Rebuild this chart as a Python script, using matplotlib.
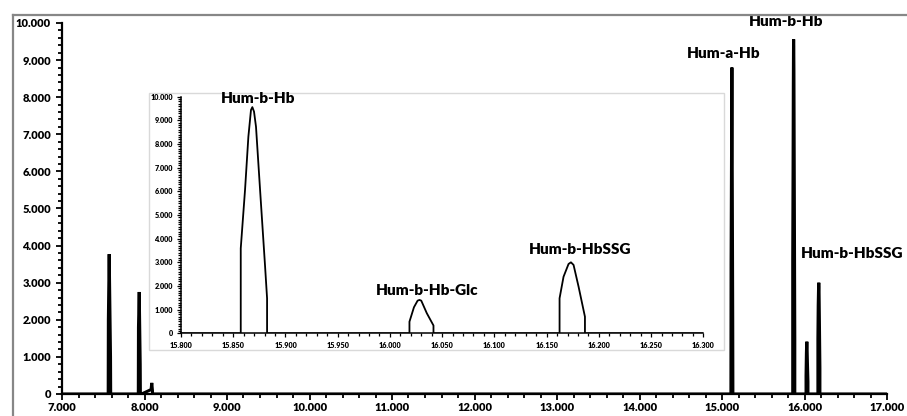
import matplotlib.pyplot as plt
from matplotlib.ticker import MultipleLocator, FuncFormatter
from matplotlib.lines import Line2D
from matplotlib.patches import Rectangle

plt.rcParams['font.family'] = ['Lato', 'DejaVu Sans']
plt.rcParams['font.weight'] = 'bold'

# retention time (min) and intensity (x1000) of the trace
rt = [7.000, 7.560, 7.562, 7.572, 7.588, 7.590,
      7.925, 7.927, 7.936, 7.948, 7.950, 7.965, 8.080, 8.088, 8.096, 8.098,
      15.108, 15.110, 15.120, 15.130, 15.132,
      15.8572, 15.8572, 15.8613, 15.8645, 15.8670, 15.8683, 15.8699, 15.8718,
      15.8757, 15.8805, 15.8824, 15.8824,
      16.0187, 16.0187, 16.0230, 16.0265, 16.0283, 16.0300, 16.0353, 16.0417, 16.0417,
      16.1624, 16.1624, 16.1662, 16.1710, 16.1733, 16.1758, 16.1806, 16.1867, 16.1867,
      17.000]
intensity = [0, 0, 2.0, 3.77, 1.0, 0,
             0, 1.8, 2.75, 0.8, 0, 0, 0.12, 0.30, 0.10, 0,
             0, 3.5, 8.80, 2.0, 0,
             0, 3.59, 6.06, 8.31, 9.44, 9.56, 9.37, 8.73,
             6.06, 2.82, 1.48, 0,
             0, 0.49, 1.10, 1.38, 1.41, 1.38, 0.85, 0.33, 0,
             0, 1.48, 2.39, 2.93, 3.00, 2.89, 1.97, 0.70, 0,
             0]

main_labels = ["Hum-a-Hb", "Hum-b-Hb", "Hum-b-HbSSG"]
main_label_x = [15.024, 15.772, 16.576]
main_label_y = [9.19, 10.03, 3.80]

inset_labels = ["Hum-b-Hb", "Hum-b-Hb-Glc", "Hum-b-HbSSG"]
inset_label_x = [15.8738, 16.036, 16.1825]
inset_label_y = [9.94, 1.80, 3.55]


def fmt(v, pos):
    if abs(v) < 1e-9:
        return "0"
    return f"{v:.3f}"


fig = plt.figure(figsize=(9.07, 4.16), dpi=100)

# outer chart border (only top and left visible)
fig.add_artist(Line2D([13 / 907, 1], [1 - 15 / 416, 1 - 15 / 416], color="#878787", lw=1.6))
fig.add_artist(Line2D([13 / 907, 13 / 907], [0, 1 - 15 / 416], color="#878787", lw=1.6))

ax = fig.add_axes([62 / 907, 22 / 416, (887 - 62) / 907, (394 - 23) / 416])
ax.plot(rt, intensity, color="black", lw=2.2, solid_joinstyle="miter")
ax.set_xlim(7, 17)
ax.set_ylim(0, 10)
for s in ["top", "right"]:
    ax.spines[s].set_visible(False)
for s in ["left", "bottom"]:
    ax.spines[s].set_linewidth(1.6)
ax.xaxis.set_major_locator(MultipleLocator(1))
ax.xaxis.set_minor_locator(MultipleLocator(0.2))
ax.yaxis.set_major_locator(MultipleLocator(1))
ax.yaxis.set_minor_locator(MultipleLocator(0.2))
ax.xaxis.set_major_formatter(FuncFormatter(fmt))
ax.yaxis.set_major_formatter(FuncFormatter(fmt))
ax.tick_params(which="both", direction="out", width=1.3, labelsize=8)
ax.tick_params(which="major", length=4)
ax.tick_params(which="minor", length=3)
ax.tick_params(axis="x", pad=2)
ax.tick_params(axis="y", pad=4)
for lab in ax.get_xticklabels() + ax.get_yticklabels():
    lab.set_fontweight("heavy")
for t, x, y in zip(main_labels, main_label_x, main_label_y):
    ax.text(x, y, t, ha="center", va="center", fontsize=11, fontweight="heavy", clip_on=False)

# inset frame
fig.add_artist(Rectangle((149 / 907, 1 - 350 / 416), (724 - 149) / 907, (350 - 93) / 416,
                         facecolor="white", edgecolor="#d9d9d9", lw=1.0, zorder=1))

axi = fig.add_axes([181 / 907, 1 - 333.3 / 416, (703.3 - 181) / 907, (333.3 - 96.7) / 416], zorder=2)
axi.plot(rt, intensity, color="black", lw=1.3)
axi.set_xlim(15.8, 16.3)
axi.set_ylim(0, 10)
axi.patch.set_alpha(0)
for s in ["top", "right"]:
    axi.spines[s].set_visible(False)
for s in ["left", "bottom"]:
    axi.spines[s].set_linewidth(1.1)
axi.xaxis.set_major_locator(MultipleLocator(0.05))
axi.xaxis.set_minor_locator(MultipleLocator(0.01))
axi.yaxis.set_major_locator(MultipleLocator(1))
axi.yaxis.set_minor_locator(MultipleLocator(0.1))
axi.xaxis.set_major_formatter(FuncFormatter(fmt))
axi.yaxis.set_major_formatter(FuncFormatter(fmt))
axi.tick_params(which="both", direction="out", width=0.9, labelsize=5.2)
axi.tick_params(which="major", length=3)
axi.tick_params(which="minor", length=2)
axi.tick_params(axis="x", pad=3)
axi.tick_params(axis="y", pad=3)
for lab in axi.get_xticklabels() + axi.get_yticklabels():
    lab.set_fontweight("heavy")
for t, x, y in zip(inset_labels, inset_label_x, inset_label_y):
    axi.text(x, y, t, ha="center", va="center", fontsize=11, fontweight="heavy", clip_on=False)

fig.savefig("out.png", dpi=100)
